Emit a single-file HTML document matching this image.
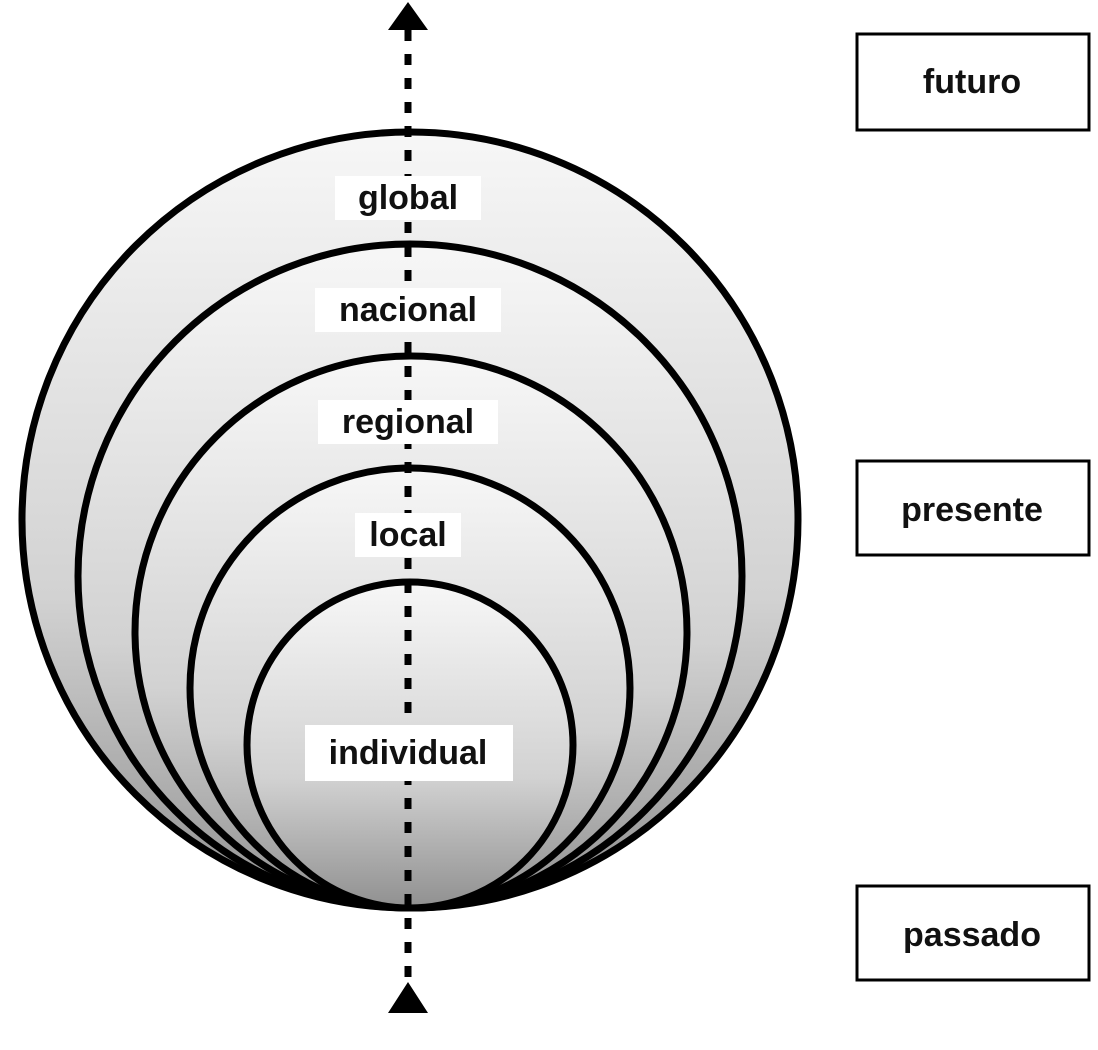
<!DOCTYPE html>
<html><head><style>
html,body{margin:0;padding:0;background:#fff;}
</style></head><body>
<svg width="1098" height="1045" viewBox="0 0 1098 1045" xmlns="http://www.w3.org/2000/svg">
<defs>
<linearGradient id="g" x1="0" y1="0" x2="0" y2="1">
<stop offset="0" stop-color="#f7f7f7"/>
<stop offset="0.6" stop-color="#d2d2d2"/>
<stop offset="1" stop-color="#909090"/>
</linearGradient>
</defs>
<g stroke="#000" stroke-width="7" fill="url(#g)">
<circle cx="410" cy="520" r="388"/>
<circle cx="410" cy="576" r="332"/>
<circle cx="411" cy="632" r="276"/>
<circle cx="410" cy="688" r="220"/>
<circle cx="410" cy="745" r="163"/>
</g>
<line x1="408" y1="30" x2="408" y2="985" stroke="#000" stroke-width="7" stroke-dasharray="11 13"/>
<polygon points="408,2 388,30 428,30" fill="#000"/>
<polygon points="408,982 388,1013 428,1013" fill="#000"/>
<g font-family="Liberation Sans, sans-serif" font-weight="bold" font-size="34" text-anchor="middle" fill="#111">
<rect x="335" y="176" width="146" height="44" fill="#fff"/>
<text x="408" y="209">global</text>
<rect x="315" y="288" width="186" height="44" fill="#fff"/>
<text x="408" y="321">nacional</text>
<rect x="318" y="400" width="180" height="44" fill="#fff"/>
<text x="408" y="433">regional</text>
<rect x="355" y="513" width="106" height="44" fill="#fff"/>
<text x="408" y="546">local</text>
<rect x="305" y="725" width="208" height="56" fill="#fff"/>
<text x="408" y="764">individual</text>
</g>
<g stroke="#000" stroke-width="3" fill="#fff">
<rect x="857" y="34" width="232" height="96"/>
<rect x="857" y="461" width="232" height="94"/>
<rect x="857" y="886" width="232" height="94"/>
</g>
<g font-family="Liberation Sans, sans-serif" font-weight="bold" font-size="34" text-anchor="middle" fill="#111">
<text x="972" y="93">futuro</text>
<text x="972" y="521">presente</text>
<text x="972" y="946">passado</text>
</g>
</svg>
</body></html>
